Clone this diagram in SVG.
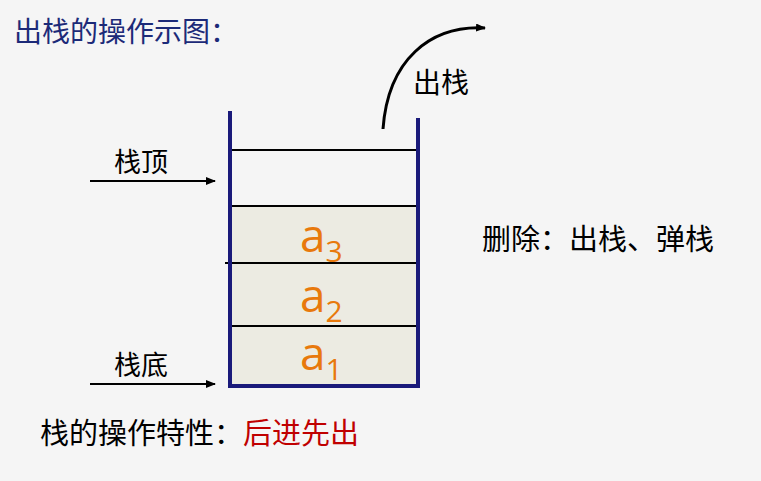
<svg xmlns="http://www.w3.org/2000/svg" width="761" height="481" viewBox="0 0 761 481">
<style>
.t{font-family:"Noto Sans CJK SC","Noto Sans",sans-serif;font-size:29px;fill:#000}
.a{font-family:"Open Sans","Liberation Sans",sans-serif;fill:#e8790c}
.ln{stroke:#000;stroke-width:2}
</style>
<defs><marker id="ah" markerWidth="10" markerHeight="8" refX="9" refY="4" orient="auto" markerUnits="userSpaceOnUse"><path d="M0,0L10,4L0,8z" fill="#000"/></marker></defs>
<rect width="761" height="481" fill="#f5f5f5"/>
<text x="14" y="42" class="t" style="fill:#1c2a78;font-size:28px">出栈的操作示图：</text>
<g id="stack">
<rect x="230" y="206" width="188" height="180" fill="#ecebe2"/>
<line x1="230" y1="150" x2="418" y2="150" class="ln"/>
<line x1="230" y1="206" x2="418" y2="206" class="ln" stroke-width="2.5"/>
<line x1="225" y1="263" x2="418" y2="263" class="ln"/>
<line x1="230" y1="326" x2="418" y2="326" class="ln" stroke-width="3"/>
<path d="M230,111V386H418V118" fill="none" stroke="#1a1a7a" stroke-width="4"/>
<text x="300" y="252" class="a" font-size="46">a<tspan font-size="30" dy="10">3</tspan></text>
<text x="300" y="312" class="a" font-size="46">a<tspan font-size="30" dy="10">2</tspan></text>
<text x="300" y="370" class="a" font-size="46">a<tspan font-size="30" dy="10">1</tspan></text>
</g>
<g id="connectors">
<line x1="90" y1="181" x2="215" y2="181" class="ln" marker-end="url(#ah)"/>
<line x1="90" y1="384" x2="215" y2="384" class="ln" marker-end="url(#ah)"/>
<path d="M383,129C388,60 430,25 485,28" fill="none" stroke="#000" stroke-width="3" marker-end="url(#ah)"/>
</g>
<g id="labels">
<text x="114" y="172" class="t" style="font-size:27px">栈顶</text>
<text x="114" y="375" class="t" style="font-size:27px">栈底</text>
<text x="413" y="93" class="t" style="font-size:28px">出栈</text>
<text x="482" y="250" class="t">删除：出栈、弹栈</text>
<text x="40" y="444" class="t">栈的操作特性：<tspan style="fill:#c00000">后进先出</tspan></text>
</g>
</svg>
